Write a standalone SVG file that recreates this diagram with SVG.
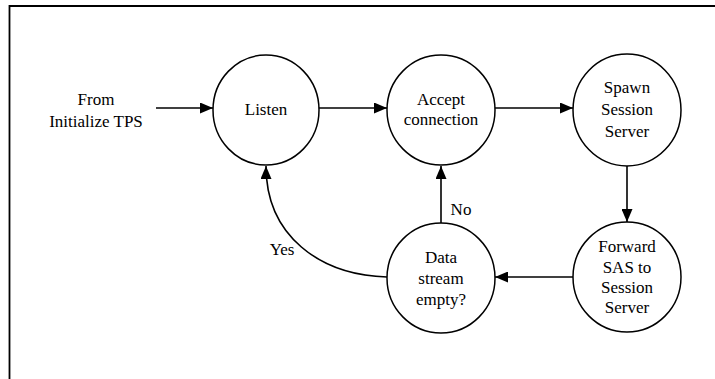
<svg xmlns="http://www.w3.org/2000/svg" width="715" height="379" viewBox="0 0 715 379" style="font-family:'Liberation Serif',serif;font-size:17px">
<style>
text{fill:#000;text-anchor:middle}
.node ellipse{fill:#fff;stroke:#000;stroke-width:1.5}
.conn{fill:none;stroke:#000;stroke-width:1.6;marker-end:url(#ah)}
.frame{fill:none;stroke:#000;stroke-width:1.8}
</style>
<defs>
<marker id="ah" viewBox="0 0 13 11" refX="13" refY="5.5" markerWidth="13" markerHeight="11" markerUnits="userSpaceOnUse" orient="auto">
<path d="M0,0 L13,5.5 L0,11 Z" fill="#000"/>
</marker>
</defs>
<rect width="715" height="379" fill="#fff"/>
<path class="frame" d="M9.5,379 V6 H715"/>
<g id="start-label">
<text x="96" y="105">From</text>
<text x="96" y="127">Initialize TPS</text>
</g>
<g id="listen" class="node">
<ellipse cx="266" cy="110" rx="53" ry="55"/>
<text x="266" y="115">Listen</text>
</g>
<g id="accept" class="node">
<ellipse cx="441" cy="110" rx="54" ry="55"/>
<text x="441" y="105">Accept</text>
<text x="441" y="125">connection</text>
</g>
<g id="spawn" class="node">
<ellipse cx="627" cy="110" rx="54" ry="56"/>
<text x="627" y="93">Spawn</text>
<text x="627" y="115">Session</text>
<text x="627" y="137">Server</text>
</g>
<g id="data" class="node">
<ellipse cx="441" cy="278" rx="54" ry="55"/>
<text x="441" y="263">Data</text>
<text x="441" y="284">stream</text>
<text x="441" y="305">empty?</text>
</g>
<g id="forward" class="node">
<ellipse cx="627" cy="277" rx="54" ry="55"/>
<text x="627" y="252">Forward</text>
<text x="627" y="273">SAS to</text>
<text x="627" y="293">Session</text>
<text x="627" y="313">Server</text>
</g>
<g id="connectors">
<path class="conn" d="M156,108 H213"/>
<path class="conn" d="M319,108 H387"/>
<path class="conn" d="M495,108 H573"/>
<path class="conn" d="M627,166 V222"/>
<path class="conn" d="M573,277 H495"/>
<path class="conn" d="M441,223 V166"/>
<path class="conn" d="M387,277 C320,275 266,236 266,166"/>
<text x="461" y="215">No</text>
<text x="282" y="255">Yes</text>
</g>
</svg>
